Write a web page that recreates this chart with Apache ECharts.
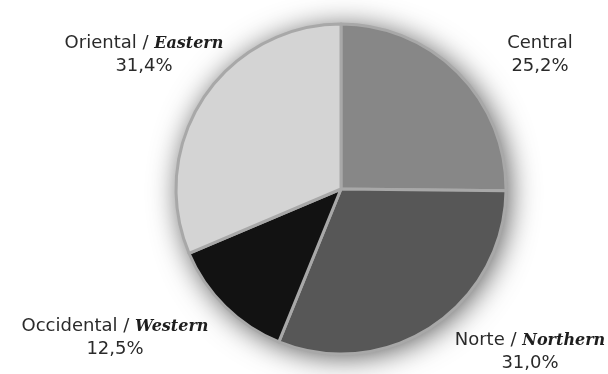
<!DOCTYPE html>
<html>
<head>
<meta charset="utf-8">
<script src="https://cdn.jsdelivr.net/npm/echarts@6/dist/echarts.min.js"></script>
<style>
  html, body { margin: 0; padding: 0; background: #ffffff; }
  #chart { width: 608px; height: 374px; }
</style>
</head>
<body>
<div id="chart"></div>
<script>
// Regional shares (percent), clockwise from 12 o'clock
const regions = ['Central', 'Norte', 'Occidental', 'Oriental'];
const regionsEn = ['', 'Northern', 'Western', 'Eastern'];
const shares = [25.2, 31.0, 12.5, 31.4];

const sliceColors = ['#878787', '#575757', '#121212', '#d4d4d4'];

// Label anchor (centre of the two-line block) for each slice
const labelAnchors = [
  [540, 55],
  [530, 352],
  [115, 338],
  [144, 55]
];

const pieCenter = [341, 189];
const pieRadius = 165;

const chart = echarts.init(document.getElementById('chart'), null, { renderer: 'canvas' });

function fmtShare(v) {
  return v.toFixed(1).replace('.', ',') + '%';
}

chart.setOption({
  backgroundColor: '#ffffff',
  animation: false,
  series: [
    {
      // soft drop shadow under the whole disc
      type: 'pie',
      silent: true,
      center: pieCenter,
      radius: pieRadius - 1,
      startAngle: 90,
      label: { show: false },
      labelLine: { show: false },
      itemStyle: {
        color: '#b4b4b4',
        shadowBlur: 30,
        shadowColor: 'rgba(0,0,0,0.7)',
        shadowOffsetX: 3,
        shadowOffsetY: 3
      },
      data: [{ value: 1 }]
    },
    {
      type: 'pie',
      center: pieCenter,
      radius: pieRadius,
      startAngle: 90,
      clockwise: true,
      avoidLabelOverlap: false,
      itemStyle: {
        borderColor: '#a8a8a8',
        borderWidth: 3
      },
      labelLine: { show: false },
      label: {
        show: true,
        position: 'outside',
        align: 'center',
        color: '#2a2a2a',
        formatter: function (p) {
          const i = p.dataIndex;
          const head = regionsEn[i]
            ? '{s|' + regions[i] + ' / }{i|' + regionsEn[i] + '}'
            : '{s|' + regions[i] + '}';
          return head + '\n{s|' + fmtShare(p.value) + '}';
        },
        rich: {
          s: {
            fontFamily: 'DejaVu Sans',
            fontSize: 18,
            lineHeight: 23,
            color: '#2a2a2a',
            align: 'center'
          },
          i: {
            fontFamily: 'DejaVu Serif',
            fontStyle: 'italic',
            fontWeight: 'bold',
            fontSize: 16,
            lineHeight: 23,
            color: '#1e1e1e',
            align: 'center'
          }
        }
      },
      labelLayout: function (params) {
        const a = labelAnchors[params.dataIndex];
        return { x: a[0], y: a[1], align: 'center', verticalAlign: 'middle' };
      },
      data: regions.map(function (name, i) {
        return { name: name, value: shares[i], itemStyle: { color: sliceColors[i] } };
      })
    }
  ]
});
</script>
</body>
</html>
